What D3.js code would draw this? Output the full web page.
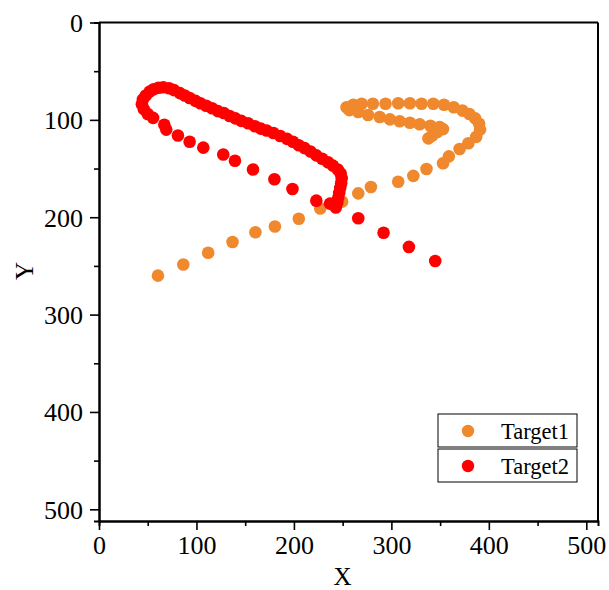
<!DOCTYPE html>
<html>
<head>
<meta charset="utf-8">
<script src="https://cdn.jsdelivr.net/npm/d3@7"></script>
<style>
  html, body { margin: 0; padding: 0; background: #fff; }
  svg { display: block; }
</style>
</head>
<body>
<script>
// Target 1 track (orange), x / y in plot units
const target1X = [60.5, 86.5, 112, 137, 160.5, 180.5, 205, 227, 249.5, 266, 279, 307, 322.5, 336, 353,
  359, 370, 379, 387, 391, 390, 386, 380, 373, 364, 354, 343, 331, 319, 307, 294, 281, 269.5, 261, 254,
  257, 266, 276, 288, 298.5, 308.5, 319, 329, 340, 349.5, 353, 347, 342, 338];
const target1Y = [260, 248.5, 236.5, 225.5, 215.5, 209.5, 201.5, 191, 184, 175.5, 169, 163.5, 157.5, 150.5, 144.5,
  137.5, 130, 124, 117.5, 110, 104, 98.5, 94, 90.5, 87, 84.5, 83.5, 83.5, 83, 83, 83.5, 83.5, 83.5, 84.5, 87,
  90, 92, 95, 97, 99.5, 101.5, 103, 104.5, 106, 107.5, 109.5, 112.5, 116, 119];

// Target 2 track (red)
const target2X = [345, 318, 292, 266, 223, 198.5, 180, 158, 139.5, 127.5, 107, 93, 81, 69, 67, 55.5,
  50, 46, 44, 45, 48, 52, 56, 61, 66, 72, 77, 83, 88, 93, 99, 104, 110, 116, 122, 128, 134, 140, 146, 153,
  160, 166, 172, 179, 186, 193, 199, 205, 211, 217, 223, 229, 235, 240, 245, 248, 249, 248.5, 247.5, 246.5,
  245.5, 244.5, 243, 237];
const target2Y = [245, 230.5, 216, 201, 183, 171, 161, 151, 142, 135.5, 128.5, 122.5, 116, 110, 105, 98,
  94, 89, 84, 79, 75, 71, 68.5, 67, 66.5, 67.5, 69.5, 72.5, 75, 77.5, 80.5, 83, 85.5, 88, 91, 93, 96, 98.5, 101, 103.5,
  106.5, 109, 111, 113.5, 116.5, 119.5, 122.5, 126, 129, 132.5, 136.5, 140, 143.5, 147, 151, 155, 160, 165, 170, 175,
  180, 185, 190, 186];

const seriesNames = ["Target1", "Target2"];
const seriesColors = ["#F0892E", "#FF0000"];
const xTicks = [0, 100, 200, 300, 400, 500];
const yTicks = [0, 100, 200, 300, 400, 500];
const axisMax = 512;

const W = 609, H = 590;
const plotLeft = 99, plotRight = 598, plotTop = 22.5, plotBottom = 521;

const svg = d3.select("body").append("svg").attr("width", W).attr("height", H);

const x = d3.scaleLinear().domain([0, axisMax]).range([plotLeft, plotRight]);
const y = d3.scaleLinear().domain([0, axisMax]).range([plotTop, plotBottom]);

const font = "'Liberation Serif', 'Times New Roman', serif";

// frame: top and right borders
svg.append("line").attr("x1", plotLeft).attr("x2", plotRight).attr("y1", plotTop).attr("y2", plotTop)
  .attr("stroke", "#000").attr("stroke-width", 2);
svg.append("line").attr("x1", plotRight).attr("x2", plotRight).attr("y1", plotTop).attr("y2", plotBottom)
  .attr("stroke", "#000").attr("stroke-width", 2);

// minor ticks
const minor = d3.range(50, 501, 100);
svg.append("g").attr("transform", `translate(0,${plotBottom})`)
  .call(d3.axisBottom(x).tickValues(minor).tickSize(5).tickFormat(""));
svg.append("g").attr("transform", `translate(${plotLeft},0)`)
  .call(d3.axisLeft(y).tickValues(minor).tickSize(5).tickFormat(""));

// major ticks with labels
svg.append("g").attr("transform", `translate(0,${plotBottom})`)
  .call(d3.axisBottom(x).tickValues(xTicks).tickSize(9).tickPadding(6).tickSizeOuter(0));
const yMajor = svg.append("g").attr("transform", `translate(${plotLeft},0)`)
  .call(d3.axisLeft(y).tickValues(yTicks).tickSize(9).tickPadding(7).tickSizeOuter(0));

svg.selectAll(".domain").attr("stroke", "#000").attr("stroke-width", 2);
svg.selectAll(".tick line").attr("stroke", "#000").attr("stroke-width", 1.6);
svg.selectAll(".tick text").attr("font-family", font).attr("font-size", 26).attr("fill", "#000");
yMajor.selectAll(".tick text").attr("dy", "0.34em");

// axis titles
svg.append("text").attr("x", (plotLeft + plotRight) / 2 - 6).attr("y", 585)
  .attr("text-anchor", "middle").attr("font-family", font).attr("font-size", 25).text("X");
svg.append("text").attr("transform", `translate(33,271) rotate(-90)`)
  .attr("text-anchor", "middle").attr("font-family", font).attr("font-size", 25).text("Y");

// scatter points
const r = 6.3;
const series = [
  { xs: target1X, ys: target1Y, color: seriesColors[0] },
  { xs: target2X, ys: target2Y, color: seriesColors[1] }
];
series.forEach(s => {
  svg.append("g").selectAll("circle")
    .data(s.xs.map((v, i) => [v, s.ys[i]]))
    .join("circle")
    .attr("cx", d => x(d[0]))
    .attr("cy", d => y(d[1]))
    .attr("r", r)
    .attr("fill", s.color);
});

// legend: two stacked framed entries
const legend = svg.append("g");
const lx = 438, lw = 139, lh = 33;
const ly = [414, 449];
seriesNames.forEach((name, i) => {
  legend.append("rect").attr("x", lx).attr("y", ly[i]).attr("width", lw).attr("height", lh)
    .attr("fill", "#fff").attr("stroke", "#000").attr("stroke-width", 1);
  legend.append("circle").attr("cx", lx + 30).attr("cy", ly[i] + lh / 2 + 0.5).attr("r", 6.2)
    .attr("fill", seriesColors[i]);
  legend.append("text").attr("x", lx + 63).attr("y", ly[i] + lh / 2 + 8)
    .attr("font-family", font).attr("font-size", 22.5).attr("fill", "#000").text(name);
});
</script>
</body>
</html>
